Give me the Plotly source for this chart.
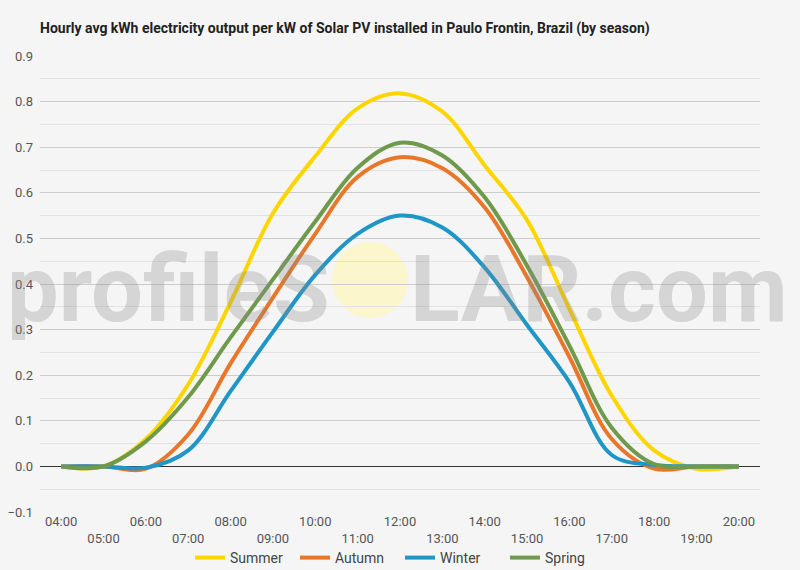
import plotly.graph_objects as go

hours = ["04:00", "05:00", "06:00", "07:00", "08:00", "09:00", "10:00", "11:00", "12:00",
         "13:00", "14:00", "15:00", "16:00", "17:00", "18:00", "19:00", "20:00"]
summer = [0.0, 0.0, 0.06, 0.18, 0.36, 0.555, 0.68, 0.785, 0.818, 0.778, 0.66, 0.54, 0.345, 0.155, 0.035, -0.005, 0.0]
autumn = [0.0, 0.0, -0.005, 0.07, 0.226, 0.37, 0.51, 0.635, 0.678, 0.654, 0.568, 0.415, 0.24, 0.06, -0.005, 0.0, 0.0]
winter = [0.0, 0.0, -0.003, 0.035, 0.165, 0.295, 0.42, 0.51, 0.55, 0.524, 0.436, 0.31, 0.185, 0.025, 0.003, 0.0, 0.0]
spring = [0.0, 0.0, 0.055, 0.152, 0.283, 0.41, 0.537, 0.655, 0.71, 0.682, 0.59, 0.44, 0.265, 0.085, 0.005, 0.0, 0.0]

series = [("Summer", summer, "#FFD500"), ("Autumn", autumn, "#E8772A"),
          ("Winter", winter, "#1F96C6"), ("Spring", spring, "#6F9A4C")]

fig = go.Figure()
for name, vals, col in series:
    fig.add_trace(go.Scatter(x=list(range(len(hours))), y=vals, name=name, mode="lines",
                             line=dict(color=col, width=4, shape="spline", smoothing=1)))

ticktext = [h if i % 2 == 0 else "<br>" + h for i, h in enumerate(hours)]

W, H = 800, 570
L, R, T, B = 40, 40, 56, 58
pw, ph = W - L - R, H - T - B

def px2x(px):
    return (px - L) / pw

def py2y(py):
    return (H - B - py) / ph

fig.update_layout(
    width=W, height=H,
    margin=dict(l=L, r=R, t=T, b=B, autoexpand=False),
    paper_bgcolor="#f5f5f5", plot_bgcolor="#f5f5f5",
    font=dict(family="Roboto", size=13, color="#444"),
    title=dict(text="<b>Hourly avg kWh electricity output per kW of Solar PV installed in Paulo Frontin, Brazil (by season)</b>",
               x=px2x(40), xref="paper", xanchor="left", y=1 - 28 / H, yanchor="middle",
               font=dict(family="Roboto", size=14, color="#222")),
    xaxis=dict(range=[-0.5, len(hours) - 0.5], tickmode="array", tickvals=list(range(len(hours))),
               ticktext=ticktext, showgrid=False, zeroline=False, showline=False, ticks="",
               automargin=False, tickfont=dict(size=13, color="#555")),
    yaxis=dict(range=[-0.1, 0.9], dtick=0.1, tickformat=".1f", showgrid=True, gridcolor="#cccccc",
               gridwidth=1, zeroline=True, zerolinecolor="#333333", zerolinewidth=1,
               minor=dict(dtick=0.05, showgrid=True, gridcolor="#e2e2e2", gridwidth=1),
               tickfont=dict(size=13, color="#555"), ticks="", showline=False,
               automargin=False, ticklabelstandoff=6),
    legend=dict(orientation="h", x=0.5, xanchor="center", yref="container", y=1 - 558 / H,
                yanchor="middle", font=dict(size=14, color="#444"), bgcolor="rgba(0,0,0,0)",
                entrywidth=60, entrywidthmode="pixels"),
    showlegend=True,
)

# watermark
fig.add_shape(type="circle", xref="paper", yref="paper",
              x0=px2x(332), x1=px2x(408), y0=py2y(318), y1=py2y(242),
              fillcolor="rgba(255,245,170,0.55)", line=dict(width=0), layer="below")
wm_font = dict(family="Roboto", size=92, color="rgba(140,140,140,0.30)", weight="bold")
fig.add_annotation(text="profileS", xref="paper", yref="paper", x=px2x(332), y=py2y(289),
                   xanchor="right", yanchor="middle", showarrow=False, font=wm_font)
fig.add_annotation(text="LAR.com", xref="paper", yref="paper", x=px2x(408), y=py2y(289),
                   xanchor="left", yanchor="middle", showarrow=False, font=wm_font)

fig.write_html("out.html")
